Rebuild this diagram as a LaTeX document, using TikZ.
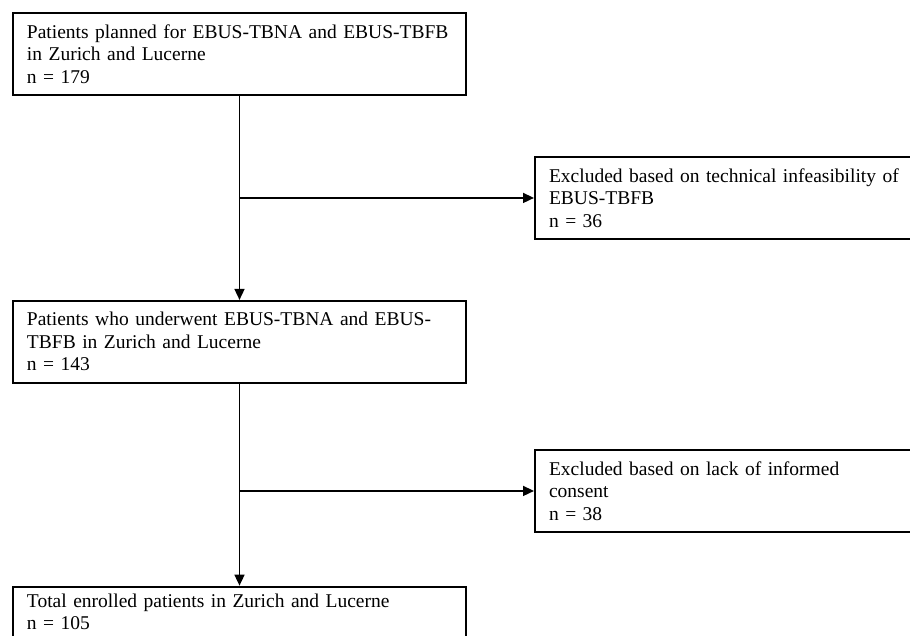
\documentclass[tikz,border=0pt]{standalone}
\usepackage{fontspec}
\setmainfont{Liberation Serif}
\usetikzlibrary{arrows.meta}
\usetikzlibrary{positioning}
\tikzset {
  flow path/.style = {
    draw = black,
    line width = 1.6pt
  },
  % path style with an arrow at the end
  arr/.style = {
    flow path,
    -{Triangle[length=11pt,width=10pt]}
  }
}
\tikzset {
  flow node/.style = {
    draw = black,
    line width = 2pt,
    rectangle,
    align = left,
    inner xsep = 14pt,
    inner ysep = 11.5pt,
    font = \fontsize{19.5}{22.5}\selectfont
  },
  % patients who stay in the study
  stage/.style = {
    flow node,
    text width = 425pt
  },
  % patients taken out
  excluded/.style = {
    flow node,
    text width = 372pt
  }
}

\begin{document}
\begin{tikzpicture}
    \useasboundingbox (0,0) rectangle (910pt,635pt);

    \node[stage, anchor=north west] (planned) at (12pt,623pt)
      {Patients planned for EBUS-TBNA and EBUS-TBFB\\in Zurich and Lucerne\\n = 179};
    \node[stage, below=204pt of planned.south west, anchor=north west] (underwent)
      {Patients who underwent EBUS-TBNA and EBUS-\\TBFB in Zurich and Lucerne\\n = 143};
    \node[stage, text height=9pt, text depth=40pt,
      below=202pt of underwent.south west, anchor=north west] (enrolled)
      {Total enrolled patients in Zurich and Lucerne\\n = 105};
    \node[excluded, anchor=north west] (no-tech) at (534pt,479pt)
      {Excluded based on technical infeasibility of\\EBUS-TBFB\\n = 36};
    \node[excluded, anchor=north west] (no-consent) at (534pt,186pt)
      {Excluded based on lack of informed\\consent\\n = 38};
    \coordinate (split-tech) at (planned.south |- no-tech.west);
    \coordinate (split-consent) at (underwent.south |- no-consent.west);

    \draw[arr] (planned) -- (underwent);
    \draw[arr] (underwent) -- (enrolled);
    \draw[arr] (split-tech) -- (no-tech);
    \draw[arr] (split-consent) -- (no-consent);
\end{tikzpicture}
\end{document}
